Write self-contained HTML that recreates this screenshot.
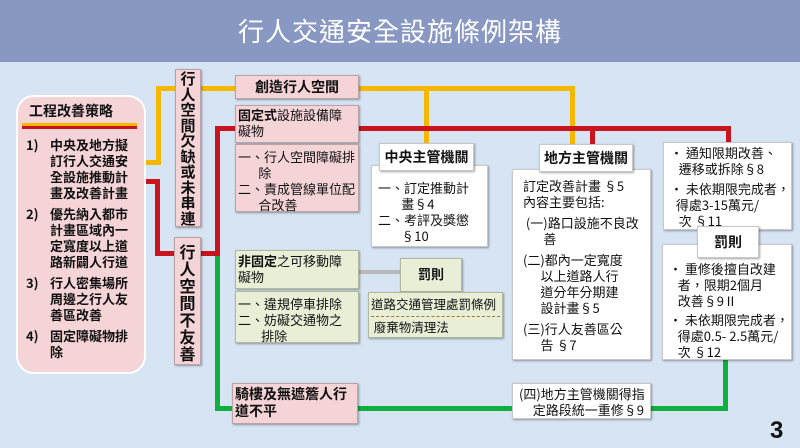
<!DOCTYPE html>
<html><head><meta charset="utf-8"><style>
*{margin:0;padding:0;box-sizing:border-box}
body{width:800px;height:448px;overflow:hidden;background:#d6e4f3;font-family:"Noto Sans CJK TC","Liberation Sans",sans-serif;position:relative;color:#111}
.a{position:absolute}
.bar{left:0;top:0;width:800px;height:62px;background:#8898c2;color:#fff;font-size:26px;text-align:center;line-height:62px;letter-spacing:1px}
.ln{position:absolute}
.y{background:#f5b800}.r{background:#c8141c}.g{background:#10b040}.gr{background:#b8b8b8}
.pk{background:#f4d4d6;border:1px solid #b9a3a6;box-shadow:1px 1px 2px rgba(0,0,0,.35)}
.gn{background:#e8efd6;border:1px solid #b0b8a0;box-shadow:1px 1px 2px rgba(0,0,0,.35)}
.wh{background:#fff;border:1px solid #c8c8c8;box-shadow:1px 1px 2px rgba(0,0,0,.35)}
.t{font-size:13px;line-height:16px;white-space:nowrap}
.b{font-weight:bold}
.v{font-size:16px;line-height:17px;text-align:center;font-weight:bold}
.v div{height:17px}
.v1{font-size:15px;line-height:15.5px}
.v1 div{height:15.5px}
</style></head><body>
<div class="a bar">行人交通安全設施條例架構</div>

<div class="ln y" style="left:145px;top:160px;width:16px;height:5px"></div>
<div class="ln y" style="left:156px;top:86px;width:5px;height:79px"></div>
<div class="ln y" style="left:156px;top:86px;width:80px;height:5px"></div>
<div class="ln y" style="left:356px;top:86px;width:218px;height:5px"></div>
<div class="ln y" style="left:570px;top:86px;width:5px;height:60px"></div>
<div class="ln y" style="left:424px;top:91px;width:5px;height:55px"></div>
<div class="ln r" style="left:145px;top:179px;width:15px;height:5px"></div>
<div class="ln r" style="left:155px;top:179px;width:5px;height:77px"></div>
<div class="ln r" style="left:155px;top:251px;width:65px;height:5px"></div>
<div class="ln r" style="left:215px;top:126px;width:5px;height:130px"></div>
<div class="ln r" style="left:215px;top:126px;width:22px;height:5px"></div>
<div class="ln r" style="left:356px;top:126px;width:374px;height:5px"></div>
<div class="ln r" style="left:590px;top:126px;width:5px;height:20px"></div>
<div class="ln r" style="left:726px;top:126px;width:5px;height:20px"></div>
<div class="ln g" style="left:215px;top:256px;width:5px;height:155px"></div>
<div class="ln g" style="left:215px;top:406px;width:20px;height:5px"></div>
<div class="ln g" style="left:356px;top:406px;width:158px;height:5px"></div>
<div class="ln g" style="left:650px;top:406px;width:78px;height:5px"></div>
<div class="ln g" style="left:723px;top:358px;width:5px;height:53px"></div>
<div class="ln gr" style="left:358px;top:270px;width:44px;height:4px"></div>

<div class="a pk" style="left:16px;top:95px;width:130px;height:279px;border-radius:18px;border:2px solid #fff;box-shadow:none"></div>
<div class="a t b" style="left:29px;top:103px;font-size:14px">工程改善策略</div>
<div class="a y" style="left:22px;top:123px;width:115px;height:3px"></div>
<div class="a r" style="left:22px;top:126px;width:115px;height:3px"></div>
<div class="a t b" style="left:26px;top:137px;width:115px">
<div style="display:flex"><span style="width:24px">1)</span><span>中央及地方擬<br>訂行人交通安<br>全設施推動計<br>畫及改善計畫</span></div>
<div style="display:flex;margin-top:5px"><span style="width:24px">2)</span><span>優先納入都市<br>計畫區域內一<br>定寬度以上道<br>路新闢人行道</span></div>
<div style="display:flex;margin-top:5px"><span style="width:24px">3)</span><span>行人密集場所<br>周邊之行人友<br>善區改善</span></div>
<div style="display:flex;margin-top:5px"><span style="width:24px">4)</span><span>固定障礙物排<br>除</span></div>
</div>

<div class="a pk v v1" style="left:175px;top:69px;width:26px;height:158px;padding-top:1px"><div>行</div><div>人</div><div>空</div><div>間</div><div>欠</div><div>缺</div><div>或</div><div>未</div><div>串</div><div>連</div></div>
<div class="a pk v" style="left:174px;top:237px;width:27px;height:128px;padding-top:5px"><div>行</div><div>人</div><div>空</div><div>間</div><div>不</div><div>友</div><div>善</div></div>

<div class="a pk t b" style="left:235px;top:75px;width:124px;height:24px;text-align:center;line-height:22px;font-size:14px">創造行人空間</div>
<div class="a pk t" style="left:235px;top:105px;width:124px;height:38px;padding:1px 2px"><b>固定式</b>設施設備障<br>礙物</div>
<div class="a pk t" style="left:235px;top:144px;width:124px;height:68px;padding:4px 2px">一、行人空間障礙排<br>&nbsp;&nbsp;&nbsp;&nbsp;&nbsp;&nbsp;&nbsp;除<br>二、責成管線單位配<br>&nbsp;&nbsp;&nbsp;&nbsp;&nbsp;&nbsp;&nbsp;合改善</div>
<div class="a gn t" style="left:235px;top:250px;width:124px;height:39px;padding:2px 2px"><b>非固定</b>之可移動障<br>礙物</div>
<div class="a gn t" style="left:235px;top:291px;width:124px;height:52px;padding:4px 2px">一、違規停車排除<br>二、妨礙交通物之<br>&nbsp;&nbsp;&nbsp;&nbsp;&nbsp;&nbsp;&nbsp;&nbsp;排除</div>
<div class="a pk t b" style="left:232px;top:383px;width:126px;height:41px;padding:2px 2px;font-size:14px;line-height:17px">騎樓及無遮簷人行<br>道不平</div>

<div class="a wh t" style="left:371px;top:165px;width:117px;height:82px;padding:14px 6px">一、訂定推動計<br>&nbsp;&nbsp;&nbsp;&nbsp;&nbsp;&nbsp;&nbsp;&nbsp;畫§4<br>二、考評及獎懲<br>&nbsp;&nbsp;&nbsp;&nbsp;&nbsp;&nbsp;&nbsp;&nbsp;§10</div>
<div class="a wh t b" style="left:379px;top:143px;width:95px;height:28px;text-align:center;line-height:26px;font-size:14px">中央主管機關</div>
<div class="a gn t b" style="left:400px;top:258px;width:62px;height:34px;text-align:center;line-height:30px">罰則</div>
<div class="a gn t" style="left:368px;top:292px;width:135px;height:46px;padding:3px 2px;font-size:12.5px">道路交通管理處罰條例<div style="border-top:1px dashed #a07a30;margin-top:4px;padding-top:2px">&nbsp;廢棄物清理法</div></div>

<div class="a wh t" style="left:512px;top:169px;width:139px;height:191px;padding:8px 10px">訂定改善計畫 §5<br>內容主要包括:
<div style="margin-top:5px">&nbsp;(一)路口設施不良改<br>&nbsp;&nbsp;&nbsp;&nbsp;&nbsp;&nbsp;&nbsp;善</div>
<div style="margin-top:5px">(二)都內一定寬度<br>&nbsp;&nbsp;&nbsp;&nbsp;&nbsp;&nbsp;以上道路人行<br>&nbsp;&nbsp;&nbsp;&nbsp;&nbsp;&nbsp;道分年分期建<br>&nbsp;&nbsp;&nbsp;&nbsp;&nbsp;&nbsp;設計畫§5</div>
<div style="margin-top:5px">(三)行人友善區公<br>&nbsp;&nbsp;&nbsp;&nbsp;&nbsp;&nbsp;告 §7</div></div>
<div class="a wh t b" style="left:539px;top:144px;width:94px;height:28px;text-align:center;line-height:26px;font-size:14px">地方主管機關</div>
<div class="a wh t" style="left:512px;top:383px;width:139px;height:36px;padding:2px 6px;text-align:right">(四)地方主管機關得指<br>定路段統一重修§9</div>

<div class="a wh t" style="left:663px;top:142px;width:129px;height:88px;padding:2px 6px">• 通知限期改善、<br>&nbsp;&nbsp;&nbsp;遷移或拆除§8<div style="margin-top:4px">• 未依期限完成者，<br>&nbsp;&nbsp;得處3-15萬元/<br>&nbsp;&nbsp;&nbsp;次 §11</div></div>
<div class="a wh t" style="left:662px;top:244px;width:130px;height:116px;padding:16px 6px 0">• 重修後擅自改建<br>&nbsp;&nbsp;&nbsp;者，限期2個月<br>&nbsp;&nbsp;&nbsp;改善§9Ⅱ<div style="margin-top:3px">• 未依期限完成者，<br>&nbsp;&nbsp;&nbsp;得處0.5- 2.5萬元/<br>&nbsp;&nbsp;&nbsp;次 §12</div></div>
<div class="a wh t b" style="left:697px;top:226px;width:62px;height:32px;text-align:center;line-height:30px;font-size:14px">罰則</div>

<div class="a b" style="left:770px;top:418px;font-size:24px;line-height:26px;font-family:'Liberation Sans',sans-serif">3</div>
</body></html>
